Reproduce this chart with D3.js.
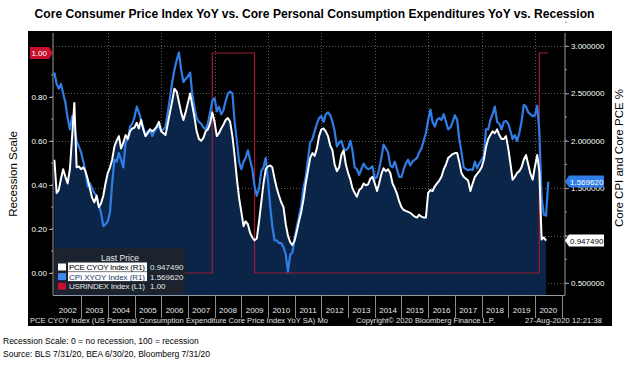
<!DOCTYPE html>
<html>
<head>
<meta charset="utf-8">
<script src="https://cdn.jsdelivr.net/npm/d3@7"></script>
<style>
  html, body { margin: 0; padding: 0; background: #fff; }
  svg { display: block; font-family: "Liberation Sans", Arial, sans-serif; }
</style>
</head>
<body>
<div id="chart"></div>
<script>
// monthly values, one row per year starting Jan 2002
const startYear = 2002;

// PCE CYOY Index (R1), Jan 2002 - Jun 2020
const pceYoY = [
  [1.80, 1.45, 1.48, 1.60, 1.70, 1.62, 1.55, 1.70, 2.05, 2.40, 1.72, 1.73],
  [1.70, 1.72, 1.68, 1.60, 1.50, 1.40, 1.35, 1.42, 1.30, 1.34, 1.42, 1.55],
  [1.66, 1.72, 1.80, 1.94, 2.00, 2.05, 1.92, 1.98, 2.06, 2.02, 2.10, 2.13],
  [2.14, 2.19, 2.13, 2.22, 2.12, 2.05, 2.08, 2.12, 2.10, 2.12, 2.15, 2.20],
  [2.10, 2.08, 2.06, 2.18, 2.30, 2.42, 2.55, 2.52, 2.41, 2.30, 2.22, 2.30],
  [2.40, 2.50, 2.38, 2.25, 2.10, 2.02, 2.00, 2.03, 2.10, 2.12, 2.18, 2.30],
  [2.20, 2.05, 2.08, 2.13, 2.17, 2.22, 2.24, 2.20, 2.05, 1.85, 1.60, 1.40],
  [1.25, 1.10, 1.15, 1.12, 1.03, 0.98, 0.95, 0.97, 1.15, 1.35, 1.55, 1.70],
  [1.73, 1.74, 1.72, 1.60, 1.50, 1.42, 1.35, 1.30, 1.12, 1.00, 0.93, 0.90],
  [0.95, 1.05, 1.15, 1.25, 1.38, 1.55, 1.68, 1.82, 1.87, 1.84, 1.92, 2.05],
  [2.12, 2.13, 2.10, 2.05, 1.95, 1.90, 1.75, 1.68, 1.72, 1.85, 1.90, 1.75],
  [1.66, 1.59, 1.50, 1.45, 1.41, 1.48, 1.50, 1.55, 1.53, 1.54, 1.60, 1.62],
  [1.55, 1.47, 1.55, 1.65, 1.71, 1.68, 1.70, 1.66, 1.55, 1.50, 1.44, 1.36],
  [1.30, 1.27, 1.26, 1.25, 1.24, 1.22, 1.20, 1.19, 1.22, 1.20, 1.19, 1.19],
  [1.45, 1.48, 1.47, 1.52, 1.55, 1.58, 1.62, 1.70, 1.75, 1.82, 1.84, 1.86],
  [1.87, 1.87, 1.78, 1.66, 1.62, 1.60, 1.58, 1.47, 1.55, 1.62, 1.65, 1.68],
  [1.72, 1.80, 1.93, 2.02, 2.06, 2.10, 2.08, 2.12, 2.06, 2.02, 2.02, 2.05],
  [1.92, 1.75, 1.59, 1.62, 1.66, 1.68, 1.72, 1.80, 1.85, 1.75, 1.65, 1.59],
  [1.73, 1.85, 1.68, 0.96, 0.98, 0.94749]
];

// CPI XYOY Index (R1), Jan 2002 - Jul 2020
const cpiYoY = [
  [2.72, 2.60, 2.55, 2.60, 2.50, 2.40, 2.24, 2.12, 2.26, 2.15, 2.00, 1.94],
  [1.88, 1.78, 1.68, 1.52, 1.55, 1.50, 1.45, 1.42, 1.32, 1.24, 1.10, 1.12],
  [1.15, 1.25, 1.55, 1.80, 1.78, 1.87, 1.80, 1.72, 1.98, 2.02, 2.15, 2.18],
  [2.25, 2.36, 2.30, 2.22, 2.14, 2.05, 2.10, 2.12, 2.05, 2.10, 2.14, 2.15],
  [2.10, 2.12, 2.15, 2.30, 2.45, 2.62, 2.75, 2.85, 2.93, 2.75, 2.62, 2.65],
  [2.68, 2.72, 2.50, 2.35, 2.24, 2.20, 2.18, 2.14, 2.12, 2.18, 2.30, 2.42],
  [2.45, 2.31, 2.36, 2.28, 2.32, 2.42, 2.50, 2.52, 2.50, 2.20, 2.00, 1.78],
  [1.70, 1.78, 1.82, 1.90, 1.80, 1.70, 1.52, 1.42, 1.50, 1.68, 1.72, 1.82],
  [1.58, 1.30, 1.10, 0.95, 0.95, 0.92, 0.92, 0.88, 0.80, 0.62, 0.80, 0.82],
  [0.98, 1.10, 1.20, 1.32, 1.50, 1.62, 1.80, 1.98, 2.02, 2.10, 2.18, 2.24],
  [2.26, 2.20, 2.28, 2.30, 2.27, 2.20, 2.10, 1.94, 1.98, 2.00, 1.92, 1.90],
  [1.92, 2.00, 1.90, 1.72, 1.70, 1.64, 1.70, 1.76, 1.72, 1.70, 1.71, 1.73],
  [1.60, 1.62, 1.70, 1.82, 1.96, 1.92, 1.88, 1.74, 1.72, 1.78, 1.70, 1.62],
  [1.62, 1.70, 1.76, 1.80, 1.74, 1.78, 1.80, 1.82, 1.88, 1.92, 2.00, 2.08],
  [2.22, 2.33, 2.20, 2.15, 2.22, 2.24, 2.22, 2.28, 2.20, 2.12, 2.14, 2.20],
  [2.27, 2.22, 2.02, 1.88, 1.72, 1.70, 1.69, 1.70, 1.69, 1.78, 1.71, 1.76],
  [1.80, 1.84, 2.12, 2.12, 2.22, 2.28, 2.36, 2.20, 2.18, 2.12, 2.20, 2.21],
  [2.18, 2.10, 2.02, 2.06, 2.00, 2.08, 2.20, 2.38, 2.36, 2.30, 2.28, 2.26],
  [2.27, 2.37, 2.10, 1.40, 1.22, 1.21, 1.56962]
];

// USRINDEX Index (L1), Jan 2002 - Jul 2020
const recession = [
  [0, 0, 0, 0, 0, 0, 0, 0, 0, 0, 0, 0],
  [0, 0, 0, 0, 0, 0, 0, 0, 0, 0, 0, 0],
  [0, 0, 0, 0, 0, 0, 0, 0, 0, 0, 0, 0],
  [0, 0, 0, 0, 0, 0, 0, 0, 0, 0, 0, 0],
  [0, 0, 0, 0, 0, 0, 0, 0, 0, 0, 0, 0],
  [0, 0, 0, 0, 0, 0, 0, 0, 0, 0, 0, 1],
  [1, 1, 1, 1, 1, 1, 1, 1, 1, 1, 1, 1],
  [1, 1, 1, 1, 1, 1, 0, 0, 0, 0, 0, 0],
  [0, 0, 0, 0, 0, 0, 0, 0, 0, 0, 0, 0],
  [0, 0, 0, 0, 0, 0, 0, 0, 0, 0, 0, 0],
  [0, 0, 0, 0, 0, 0, 0, 0, 0, 0, 0, 0],
  [0, 0, 0, 0, 0, 0, 0, 0, 0, 0, 0, 0],
  [0, 0, 0, 0, 0, 0, 0, 0, 0, 0, 0, 0],
  [0, 0, 0, 0, 0, 0, 0, 0, 0, 0, 0, 0],
  [0, 0, 0, 0, 0, 0, 0, 0, 0, 0, 0, 0],
  [0, 0, 0, 0, 0, 0, 0, 0, 0, 0, 0, 0],
  [0, 0, 0, 0, 0, 0, 0, 0, 0, 0, 0, 0],
  [0, 0, 0, 0, 0, 0, 0, 0, 0, 0, 0, 0],
  [0, 0, 1, 1, 1, 1, 1]
];

const years = [2002, 2003, 2004, 2005, 2006, 2007, 2008, 2009, 2010, 2011,
               2012, 2013, 2014, 2015, 2016, 2017, 2018, 2019, 2020];
const gridYears = [2004, 2006, 2008, 2010, 2012, 2014, 2016, 2018, 2020];
const leftTicks = [0, 0.2, 0.4, 0.6, 0.8, 1.0];
const rightTicks = [0.5, 1.0, 1.5, 2.0, 2.5, 3.0];

const legendRows = [
  { name: "PCE CYOY Index  (R1)", last: "0.947490", color: "#ffffff" },
  { name: "CPI XYOY Index  (R1)", last: "1.569620", color: "#3b8cf0" },
  { name: "USRINDEX Index  (L1)", last: "1.00", color: "#c8102e" }
];

const title = "Core Consumer Price Index YoY vs. Core Personal Consumption Expenditures YoY vs. Recession";

const W = 629, H = 367;
const plot = { left: 53, right: 565, top: 33, bottom: 295 };

const toSeries = rows => rows.flatMap((row, i) =>
  row.map((v, m) => ({ date: new Date(startYear + i, m, 1), value: v })));

const pce = toSeries(pceYoY);
const cpi = toSeries(cpiYoY);
const usr = toSeries(recession);

const x = d3.scaleTime()
  .domain([new Date(2001, 11, 13), new Date(2021, 1, 15)])
  .range([plot.left, plot.right]);
const yL = d3.scaleLinear().domain([0, 1]).range([273, 53]);
const yR = d3.scaleLinear().domain([0.5, 3]).range([283, 46]);

const svg = d3.select("#chart").append("svg")
  .attr("width", W)
  .attr("height", H);

// title: sized so it spans about 562px without stretching
const titleText = svg.append("text")
  .attr("x", 314.5).attr("y", 18)
  .attr("text-anchor", "middle")
  .attr("font-family", '"Liberation Sans Narrow", "Arial Narrow", sans-serif')
  .attr("font-weight", "bold")
  .attr("font-size", 14.5)
  .attr("fill", "#000")
  .text(title);
const tw = titleText.node().getComputedTextLength();
if (tw > 0) titleText.attr("font-size", Math.min(15.5, 14.5 * 560 / tw));

// black panel
svg.append("rect")
  .attr("x", 28).attr("y", 31)
  .attr("width", 584).attr("height", 295)
  .attr("fill", "#000");

// grid
const grid = svg.append("g").attr("stroke", "#5a5a5a").attr("stroke-dasharray", "1,2").attr("stroke-width", 1);
grid.selectAll("line.h").data(rightTicks).enter().append("line")
  .attr("x1", plot.left).attr("x2", plot.right)
  .attr("y1", d => Math.round(yR(d)) + 0.5).attr("y2", d => Math.round(yR(d)) + 0.5);
grid.selectAll("line.v").data(gridYears).enter().append("line")
  .attr("y1", plot.top).attr("y2", plot.bottom)
  .attr("x1", d => Math.round(x(new Date(d, 0, 1))) + 0.5)
  .attr("x2", d => Math.round(x(new Date(d, 0, 1))) + 0.5);

// PCE area
const area = d3.area()
  .x(d => x(d.date))
  .y0(plot.bottom)
  .y1(d => yR(d.value));
svg.append("path")
  .datum(pce)
  .attr("d", area)
  .attr("fill", "#0b2548");

// recession step line
const stepLine = d3.line()
  .x(d => x(d.date))
  .y(d => yL(d.value))
  .curve(d3.curveStepAfter);
svg.append("path")
  .datum(usr)
  .attr("d", stepLine)
  .attr("fill", "none")
  .attr("stroke", "#9e1b32")
  .attr("stroke-width", 1.2);

const line = d3.line()
  .x(d => x(d.date))
  .y(d => yR(d.value));

svg.append("path")
  .datum(cpi)
  .attr("d", line)
  .attr("fill", "none")
  .attr("stroke", "#2f7de6")
  .attr("stroke-width", 2.2)
  .attr("stroke-linejoin", "round");

svg.append("path")
  .datum(pce)
  .attr("d", line)
  .attr("fill", "none")
  .attr("stroke", "#ffffff")
  .attr("stroke-width", 2)
  .attr("stroke-linejoin", "round");

// axes
const axisColor = "#9a9a9a";
const styleAxis = g => {
  g.select(".domain").attr("stroke", axisColor);
  g.selectAll(".tick line").attr("stroke", axisColor);
  g.selectAll(".tick text").attr("fill", "#fff")
    .attr("font-family", '"Liberation Sans", Arial, sans-serif')
    .attr("font-size", 8);
};

// minor ticks
const leftMinor = svg.append("g").attr("stroke", axisColor);
leftMinor.selectAll("line").data(d3.range(0, 11).map(i => i / 10)).enter().append("line")
  .attr("x1", plot.left - 2).attr("x2", plot.left)
  .attr("y1", d => yL(d)).attr("y2", d => yL(d));
const rightMinor = svg.append("g").attr("stroke", axisColor);
rightMinor.selectAll("line").data(d3.range(1, 13).map(i => 0.25 + i * 0.25)).enter().append("line")
  .attr("x1", plot.right).attr("x2", plot.right + 2)
  .attr("y1", d => yR(d)).attr("y2", d => yR(d));

svg.append("g")
  .attr("transform", `translate(${plot.left},0)`)
  .call(d3.axisLeft(yL).tickValues(leftTicks).tickSize(4).tickPadding(2)
    .tickFormat(d => d === 1 ? "" : d3.format(".2f")(d)))
  .call(g => g.select(".domain").attr("d", `M-0,${plot.top}V${plot.bottom}`))
  .call(styleAxis);

svg.append("g")
  .attr("transform", `translate(${plot.right},0)`)
  .call(d3.axisRight(yR).tickValues(rightTicks).tickSize(4).tickPadding(2)
    .tickFormat(d => d === 1 ? "" : d3.format(".6f")(d)))
  .call(g => g.select(".domain").attr("d", `M0,${plot.top}V${plot.bottom}`))
  .call(styleAxis);

// x axis: baseline, year separators and centered labels
svg.append("line")
  .attr("x1", plot.left).attr("x2", plot.right)
  .attr("y1", plot.bottom + 0.5).attr("y2", plot.bottom + 0.5)
  .attr("stroke", axisColor);
svg.append("g").selectAll("line").data(years.slice(1).concat([2021])).enter().append("line")
  .attr("x1", d => Math.round(x(new Date(d, 0, 1))) + 0.5)
  .attr("x2", d => Math.round(x(new Date(d, 0, 1))) + 0.5)
  .attr("y1", plot.bottom).attr("y2", 318)
  .attr("stroke", "#8a8a8a");
svg.append("g").selectAll("text").data(years).enter().append("text")
  .attr("x", d => (x(new Date(d, 0, 1)) + x(new Date(d + 1, 0, 1))) / 2)
  .attr("y", 313)
  .attr("text-anchor", "middle")
  .attr("font-size", 8)
  .attr("fill", "#e8e8e8")
  .text(d => d);

// left red value box
svg.append("path")
  .attr("d", `M30,${yL(1) - 6}H49L53,${yL(1)}L49,${yL(1) + 6}H30Z`)
  .attr("fill", "#c8102e");
svg.append("text")
  .attr("x", 47).attr("y", yL(1) + 3)
  .attr("text-anchor", "end")
  .attr("font-size", 8).attr("fill", "#fff")
  .text("1.00");

// right last-price boxes
const lastCpi = cpi[cpi.length - 1], lastPce = pce[pce.length - 1];
const priceBox = (v, bg, fg, label) => {
  const y = yR(v);
  svg.append("path")
    .attr("d", `M${plot.right},${y}L${plot.right + 4},${y - 6}H604V${y + 6}H${plot.right + 4}Z`)
    .attr("fill", bg);
  svg.append("text")
    .attr("x", plot.right + 5).attr("y", y + 3)
    .attr("font-size", 8).attr("fill", fg)
    .text(label);
};
priceBox(lastCpi.value, "#2f7de6", "#fff", "1.569620");
priceBox(lastPce.value, "#ffffff", "#000", "0.947490");

// legend
const lg = svg.append("g");
lg.append("rect")
  .attr("x", 54).attr("y", 248)
  .attr("width", 131).attr("height", 46)
  .attr("fill", "#1d232d").attr("opacity", 0.92);
lg.append("text")
  .attr("x", 120).attr("y", 261)
  .attr("text-anchor", "middle")
  .attr("font-size", 8.5).attr("fill", "#e8e8e8")
  .text("Last Price");
legendRows.forEach((r, i) => {
  const cy = 267 + i * 9.6;
  lg.append("rect")
    .attr("x", 58).attr("y", cy - 3.5)
    .attr("width", 8).attr("height", 7)
    .attr("fill", r.color);
  if (i < 2) {
    lg.append("rect")
      .attr("x", 68).attr("y", cy - 4.5)
      .attr("width", 79).attr("height", 9)
      .attr("fill", "#fff");
  }
  lg.append("text")
    .attr("x", 69).attr("y", cy + 3)
    .attr("font-size", 8)
    .attr("textLength", 76)
    .attr("fill", i === 0 ? "#000" : i === 1 ? "#1b3a6b" : "#e8e8e8")
    .text(r.name);
  lg.append("text")
    .attr("x", 150).attr("y", cy + 3)
    .attr("font-size", 8)
    .attr("fill", "#e8e8e8")
    .text(r.last);
});

// footer inside panel
const footer = svg.append("g").attr("font-size", 7.5).attr("fill", "#e0e0e0");
footer.append("text").attr("x", 30).attr("y", 323).attr("textLength", 298)
  .text("PCE CYOY Index (US Personal Consumption Expenditure Core Price Index YoY SA)  Mo");
footer.append("text").attr("x", 356).attr("y", 323).attr("textLength", 139)
  .text("Copyright\u00a9 2020 Bloomberg Finance L.P.");
footer.append("text").attr("x", 525).attr("y", 323).attr("textLength", 77)
  .text("27-Aug-2020 12:21:38");

// axis titles
svg.append("text")
  .attr("transform", "translate(17,174) rotate(-90)")
  .attr("text-anchor", "middle")
  .attr("font-size", 11.5).attr("fill", "#000")
  .text("Recession Scale");
svg.append("text")
  .attr("transform", "translate(623,158) rotate(-90)")
  .attr("text-anchor", "middle")
  .attr("font-size", 11.5).attr("fill", "#000")
  .text("Core CPI and Core PCE %");

// notes under chart
svg.append("text").attr("x", 3).attr("y", 344)
  .attr("font-size", 8.5).attr("fill", "#000")
  .text("Recession Scale: 0 = no recession, 100 = recession");
svg.append("text").attr("x", 3).attr("y", 357)
  .attr("font-size", 8.5).attr("fill", "#000")
  .text("Source: BLS 7/31/20, BEA 6/30/20, Bloomberg 7/31/20");
</script>
</body>
</html>
